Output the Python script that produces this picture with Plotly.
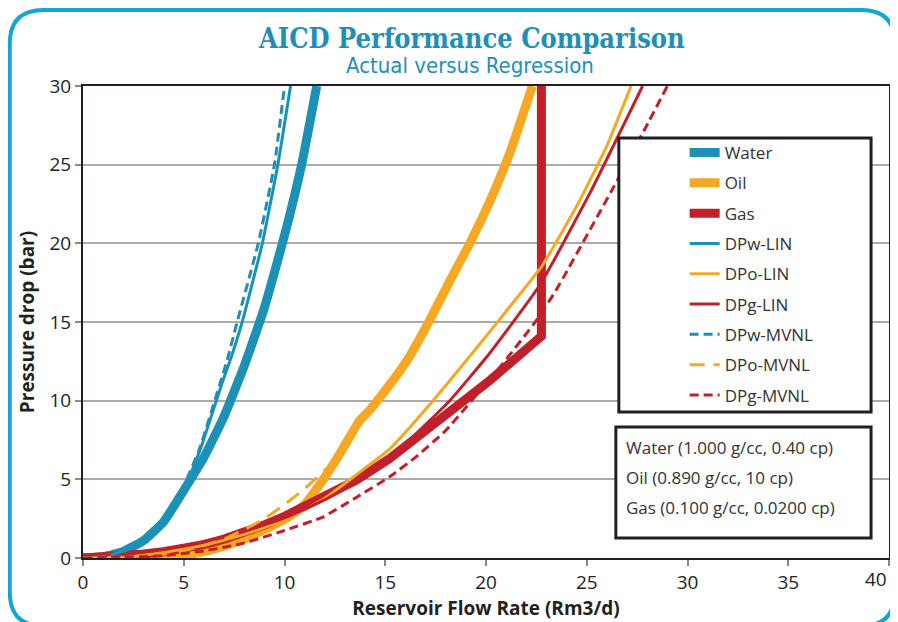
import plotly.graph_objects as go

# ---------------- data ----------------
water_x = [0, 1, 2, 3, 4, 5, 6, 7, 8, 9, 10, 10.85, 11.6]
water_y = [0, 0.08, 0.42, 1.1, 2.3, 4.3, 6.4, 9.0, 12.2, 15.9, 20.5, 25, 30]

oil_x = [0, 2, 3, 4, 5, 6, 7, 8, 9, 10, 11, 11.9, 12.75, 13.74, 14.23, 15.39,
         16.2, 17.2, 18.2, 19.2, 20.2, 21.2, 22.3]
oil_y = [0, 0.02, 0.05, 0.1, 0.2, 0.4, 0.75, 1.2, 1.8, 2.45, 3.4, 4.95, 6.64,
         8.75, 9.4, 11.3, 12.8, 15.1, 17.6, 20.0, 22.7, 25.8, 30]

gas_x = [0, 1, 2, 3, 4, 5, 6, 7, 8, 9, 10, 11, 12, 13.57, 15.2, 17.7, 20.2,
         22.75, 22.75]
gas_y = [0, 0.05, 0.12, 0.25, 0.4, 0.6, 0.85, 1.2, 1.6, 2.1, 2.65, 3.3, 4.0,
         4.95, 6.3, 8.75, 11.3, 14.1, 30]

dpw_lin_x = [0, 1, 2, 3, 4, 5, 5.85, 6.95, 7.3, 7.9, 8.9, 9.67, 10.3]
dpw_lin_y = [0, 0.08, 0.42, 1.1, 2.3, 4.3, 7, 11.3, 12.55, 15, 20, 25, 30]

dpo_lin_x = [0, 2, 4, 6, 8, 10, 12, 13.57, 15.2, 17.37, 19.5, 21.2, 22.8,
             24.6, 26.0, 27.2]
dpo_lin_y = [0, 0.1, 0.35, 0.8, 1.5, 2.4, 3.8, 5.3, 6.9, 10.0, 13.3, 16.0,
             18.6, 22.6, 26.2, 30]

dpg_lin_x = [0, 2, 4, 6, 8, 10, 12, 14, 15.7, 18.2, 20.17, 22.7, 25.2, 27.77]
dpg_lin_y = [0.05, 0.2, 0.55, 1.05, 1.7, 2.55, 3.7, 5.2, 6.9, 10.0, 13.0,
             17.4, 23.3, 30]

dpw_mvnl_x = [0, 1, 2, 3, 3.9, 4.9, 5.8, 6.85, 7.15, 7.65, 8.7, 9.5, 10.0]
dpw_mvnl_y = [0, 0.08, 0.42, 1.1, 2.3, 4.3, 7, 11.3, 12.55, 15, 20, 25, 30]

dpo_mvnl_x = [0, 2, 4, 5, 6, 7, 8, 9, 10, 11, 12.25, 12.9, 13.74, 14.23,
              15.39, 16.2, 17.2, 18.2, 19.2, 20.2, 21.2, 22.3]
dpo_mvnl_y = [0, 0.05, 0.25, 0.45, 0.8, 1.2, 1.8, 2.5, 3.4, 4.4, 5.9, 7.0,
              8.75, 9.4, 11.3, 12.8, 15.1, 17.6, 20.0, 22.7, 25.8, 30]

dpg_mvnl_x = [0, 2, 4, 6, 8, 10, 11.9, 13.5, 15.2, 16.5, 18, 20.8, 22.5,
              23.47, 26.3, 27.9, 29.0]
dpg_mvnl_y = [0, 0.05, 0.15, 0.45, 0.95, 1.75, 2.6, 3.8, 5.15, 6.4, 8.1,
              12.3, 15.1, 17.0, 23.5, 27.3, 30]

x_ticks = [0, 5, 10, 15, 20, 25, 30, 35, 40]
x_tick_labels = ["0", "5", "10", "15", "20", "25", "30", "35", "40"]
y_ticks = [0, 5, 10, 15, 20, 25, 30]

title_text = "AICD Performance Comparison"
subtitle_text = "Actual versus Regression"
x_title = "Reservoir Flow Rate (Rm3/d)"
y_title = "Pressure drop (bar)"
fluid_notes = ["Water (1.000 g/cc, 0.40 cp)",
               "Oil (0.890 g/cc, 10 cp)",
               "Gas (0.100 g/cc, 0.0200 cp)"]

# ---------------- styling ----------------
WATER = "#1B91B6"
OIL = "#F7A823"
GAS = "#C1202B"
TEAL_TITLE = "#1F8FB6"
FRAME = "#12A6D3"
TXT = "#231F20"
FONT = "Open Sans"

OFF = 8                       # page body margin
W, H = 890, 614               # figure size (page 898x622 minus body margin)
ML, MR, MT, MB = 74.5, 7, 78, 64
PW, PH = W - ML - MR, H - MT - MB


def pxx(p):   # page x pixel -> paper
    return (p - OFF - ML) / PW


def pxy(p):   # page y pixel -> paper
    return (H - MB - (p - OFF)) / PH


series = [
    ("Water", water_x, water_y, WATER, 9, "solid", "spline"),
    ("Oil", oil_x, oil_y, OIL, 9, "solid", "spline"),
    ("Gas", gas_x, gas_y, GAS, 9, "solid", "linear"),
    ("DPw-LIN", dpw_lin_x, dpw_lin_y, WATER, 3, "solid", "spline"),
    ("DPo-LIN", dpo_lin_x, dpo_lin_y, OIL, 3, "solid", "spline"),
    ("DPg-LIN", dpg_lin_x, dpg_lin_y, GAS, 3, "solid", "spline"),
    ("DPw-MVNL", dpw_mvnl_x, dpw_mvnl_y, WATER, 3, "9px,5px", "spline"),
    ("DPo-MVNL", dpo_mvnl_x, dpo_mvnl_y, OIL, 3, "15px,9px", "spline"),
    ("DPg-MVNL", dpg_mvnl_x, dpg_mvnl_y, GAS, 3, "9px,5px", "spline"),
]

fig = go.Figure()
for i, (name, xs, ys, col, wd, dash, shp) in enumerate(series):
    line = dict(color=col, width=wd, dash=dash, shape=shp)
    if shp == "spline":
        line["smoothing"] = 0.4
    fig.add_trace(go.Scatter(
        x=xs, y=ys, mode="lines", name=name, legendgroup=name,
        legendrank=i + 1, line=line,
    ))

# frame (rounded rectangle around the whole figure), page pixel coords
x0, x1, y0, y1, r = 9, 897, 10, 626, 34


def P(x, y):
    return f"{pxx(x):.5f},{pxy(y):.5f}"


frame_path = (f"M{P(x0 + r, y0)} L{P(x1 - r, y0)} Q{P(x1, y0)} {P(x1, y0 + r)} "
              f"L{P(x1, y1 - r)} Q{P(x1, y1)} {P(x1 - r, y1)} L{P(x0 + r, y1)} "
              f"Q{P(x0, y1)} {P(x0, y1 - r)} L{P(x0, y0 + r)} Q{P(x0, y0)} {P(x0 + r, y0)} Z")

shapes = [
    dict(type="path", path=frame_path, xref="paper", yref="paper",
         line=dict(color=FRAME, width=4), layer="above"),
    # legend box
    dict(type="rect", xref="paper", yref="paper",
         x0=pxx(620), x1=pxx(873), y0=pxy(412), y1=pxy(138),
         line=dict(color=TXT, width=3), fillcolor="white", layer="above"),
    # fluid property box
    dict(type="rect", xref="paper", yref="paper",
         x0=pxx(617), x1=pxx(873), y0=pxy(538), y1=pxy(427),
         line=dict(color=TXT, width=3), fillcolor="white", layer="above"),
]

annotations = [
    dict(text=f"<b>{title_text}</b>", xref="paper", yref="paper",
         x=pxx(472), y=pxy(38), showarrow=False, xanchor="center", yanchor="middle",
         font=dict(family="DejaVu Serif Condensed", size=27, color=TEAL_TITLE)),
    dict(text=subtitle_text, xref="paper", yref="paper",
         x=pxx(471), y=pxy(65), showarrow=False, xanchor="center", yanchor="middle",
         font=dict(family="DejaVu Sans Condensed", size=22, color=TEAL_TITLE)),
    # last x tick label: nudged left so that it stays inside the page
    dict(text=x_tick_labels[-1], xref="x", yref="paper",
         x=x_ticks[-1], y=pxy(579), showarrow=False, xanchor="right",
         yanchor="middle", xshift=-1, borderpad=0,
         font=dict(family=FONT, size=19, color=TXT)),
]
for k, t in enumerate(fluid_notes):
    annotations.append(dict(
        text=t, xref="paper", yref="paper", x=pxx(625), y=pxy(447 + 30 * k),
        showarrow=False, xanchor="left", yanchor="middle",
        font=dict(family=FONT, size=17, color="#333333")))

fig.update_layout(
    width=W, height=H,
    margin=dict(l=ML, r=MR, t=MT, b=MB),
    paper_bgcolor="white", plot_bgcolor="white",
    font=dict(family=FONT, size=18, color=TXT),
    showlegend=True,
    legend=dict(
        x=pxx(686), y=pxy(135), xanchor="left", yanchor="top",
        bgcolor="rgba(0,0,0,0)", borderwidth=0,
        font=dict(family=FONT, size=17, color="#333333"),
        tracegroupgap=5.2,
    ),
    shapes=shapes,
    annotations=annotations,
)
fig.update_xaxes(
    range=[0, 40], tickvals=x_ticks,
    ticktext=x_tick_labels[:-1] + [""],
    showgrid=False, zeroline=False,
    showline=True, linecolor=TXT, linewidth=2, mirror=True,
    ticks="outside", ticklen=6, tickwidth=1.5, tickcolor="#8a8a8a",
    tickfont=dict(family=FONT, size=19, color=TXT),
    title=dict(text=f"<b>{x_title}</b>", font=dict(family=FONT, size=19, color=TXT),
               standoff=4),
)
fig.update_yaxes(
    range=[0, 30], tickvals=y_ticks, showgrid=True, gridcolor="#ABABAB",
    gridwidth=1.5, zeroline=False,
    showline=True, linecolor=TXT, linewidth=2, mirror=True,
    ticks="outside", ticklen=6, tickwidth=1.5, tickcolor="#8a8a8a",
    tickfont=dict(family=FONT, size=19, color=TXT),
    title=dict(text=f"<b>{y_title}</b>", font=dict(family=FONT, size=19, color=TXT),
               standoff=10),
)

fig.write_html("out.html")
